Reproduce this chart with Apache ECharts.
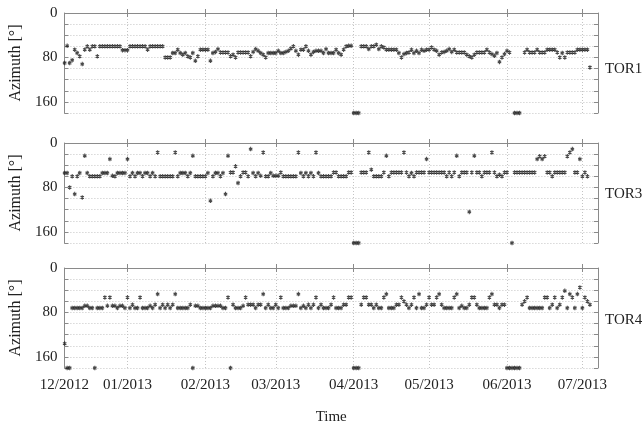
<!DOCTYPE html>
<html>
<head>
<meta charset="utf-8">
<style>
  html, body { margin: 0; padding: 0; background: #fff; }
  #chart { width: 644px; height: 426px; }
</style>
<script src="https://cdn.jsdelivr.net/npm/echarts@6/dist/echarts.min.js"></script>
</head>
<body>
<div id="chart"></div>
<script>
// Daily azimuth estimates (degrees), one value per day starting 7 Dec 2012.
// null = no estimate that day; 180 = flagged/out-of-range day.
const firstDay = '2012-12-07';
const stations = ['TOR1', 'TOR3', 'TOR4'];

const tor1 = [
  90,59,90,85,66,72,78,92,66,60,66,60,60,78,
  60,60,60,60,60,60,60,60,60,
  67,67,67,
  60,60,60,60,60,60,60,
  66,
  60,60,60,60,60,60,
  80,80,80,
  72,72,66,72,75,72,78,80,72,86,78,
  66,66,66,66,
  86,72,70,65,
  71,71,71,71,
  78,75,80,71,
  71,71,71,71,
  78,70,65,68,72,75,80,
  72,72,72,72,
  68,72,72,70,68,64,60,68,75,66,66,60,68,75,70,
  68,68,68,
  72,65,
  72,72,72,
  66,72,75,66,60,59,59,
  180,180,180,
  60,60,60,
  65,60,60,57,65,60,62,
  66,66,66,66,66,
  72,80,74,72,71,66,72,68,72,66,68,66,66,62,66,68,75,71,70,68,65,70,66,
  71,71,71,71,
  75,78,80,75,
  71,71,71,71,
  66,71,74,77,72,88,80,74,68,71,
  null,
  180,180,180,
  null,
  71,66,
  71,71,71,
  66,
  71,71,71,
  66,66,66,66,
  71,80,72,80,71,
  71,71,71,
  66,66,66,66,66,
  98
];

const tor3 = [
  54,54,80,60,92,60,54,98,23,54,
  60,60,60,60,60,
  54,54,54,
  29,59,60,
  54,54,54,54,
  29,60,54,60,54,54,60,54,54,60,54,60,
  17,
  60,60,60,60,60,60,
  17,60,
  54,54,54,
  60,54,23,
  60,60,60,60,60,
  54,104,60,
  54,54,60,54,
  92,23,53,53,42,72,60,53,53,60,11,
  54,60,54,59,17,60,60,54,
  59,59,59,
  53,
  60,60,60,60,60,60,
  17,54,60,54,60,54,60,17,54,
  60,60,60,60,60,
  53,53,
  60,60,60,60,
  53,53,
  180,180,180,
  53,53,53,
  17,48,
  60,60,60,60,
  53,23,60,
  53,53,53,53,53,
  17,53,60,54,60,
  53,53,53,53,
  29,53,
  53,53,53,53,53,53,
  60,53,60,53,23,60,
  53,53,53,
  124,53,23,
  53,53,
  60,
  53,53,53,
  17,53,60,57,60,
  53,53,
  null,
  180,
  53,53,53,53,53,53,53,53,53,
  29,24,29,24,
  53,53,
  60,
  53,53,53,53,53,
  24,17,11,
  53,53,
  29,60,53,60,
  null
];

const tor4 = [
  136,180,180,
  72,72,72,72,72,
  68,68,
  72,72,
  180,
  72,72,72,
  53,68,53,68,68,72,68,68,72,53,72,66,
  72,72,
  53,
  72,72,72,
  68,72,66,47,72,66,72,66,72,66,47,
  72,72,72,72,72,
  66,180,
  68,68,
  72,72,72,72,72,
  68,68,68,68,72,
  72,53,180,66,
  72,72,72,
  68,53,66,66,66,
  72,66,66,47,72,66,72,72,66,72,53,
  72,72,72,
  68,68,68,
  47,72,68,72,66,72,66,53,72,66,
  72,72,72,
  66,53,
  72,72,72,
  66,66,
  53,53,
  180,180,180,
  66,53,53,66,66,72,66,72,72,53,47,
  72,72,72,
  66,66,53,60,66,72,66,53,72,47,72,72,66,53,66,66,53,47,66,
  72,72,72,72,
  53,47,72,68,72,72,66,53,53,66,
  72,72,72,72,
  53,47,66,66,72,66,66,
  180,180,180,180,180,180,
  66,60,53,
  72,72,72,72,72,72,
  53,53,72,66,53,72,66,53,41,72,47,53,72,47,35,72,53,60,66
];

const monthTicks = ['2013-01-01','2013-02-01','2013-03-01','2013-04-01','2013-05-01','2013-06-01','2013-07-01'];
const yTickLabels = [0, 80, 160];

const DAY = 86400000;
const t0 = Date.parse(firstDay + 'T00:00:00Z');
const axisMin = t0 - 0.1 * DAY;
const axisMax = Date.parse('2013-07-07T05:00:00Z');
const tickTimes = monthTicks.map(s => Date.parse(s + 'T00:00:00Z'));
const labelTimes = [axisMin].concat(tickTimes);

function toPoints(arr) {
  const out = [];
  arr.forEach((v, i) => { if (v !== null) out.push([t0 + i * DAY, v]); });
  return out;
}

function monthLabel(v) {
  const d = new Date(v + 0.2 * DAY);
  const m = d.getUTCMonth() + 1;
  return (m < 10 ? '0' + m : '' + m) + '/' + d.getUTCFullYear();
}

const FONT = '"Liberation Serif", "Times New Roman", serif';
const AXIS_COLOR = '#8a8a8a';
const GRID_COLOR = '#c4c4c4';
const TEXT_COLOR = '#222';
// small six-armed asterisk marker
const ASTERISK = 'path://M0,-3L0,3M-2.6,-1.5L2.6,1.5M-2.6,1.5L2.6,-1.5';

const grids = [
  { left: 59, top: 13, width: 539, height: 100 },
  { left: 59, top: 143, width: 539, height: 100 },
  { left: 59, top: 268, width: 539, height: 100 }
];

const xAxes = [];
const yAxes = [];
const series = [];

grids.forEach((g, i) => {
  const isLast = i === grids.length - 1;
  // bottom date axis (values are UTC milliseconds)
  xAxes.push({
    type: 'value', gridIndex: i, min: axisMin, max: axisMax, position: 'bottom',
    axisLine: { show: true, lineStyle: { color: AXIS_COLOR, width: 1 } },
    axisTick: { show: true, inside: true, length: 4, customValues: tickTimes, lineStyle: { color: AXIS_COLOR } },
    axisLabel: {
      show: isLast, customValues: labelTimes, margin: 10, showMinLabel: true, showMaxLabel: true,
      fontFamily: FONT, fontSize: 15, color: TEXT_COLOR,
      formatter: monthLabel
    },
    splitLine: { show: true, lineStyle: { color: GRID_COLOR, type: [1, 2], width: 1 } },
    name: isLast ? 'Time' : '', nameLocation: 'middle', nameGap: 42,
    nameTextStyle: { fontFamily: FONT, fontSize: 15, color: TEXT_COLOR }
  });
  // top frame axis
  xAxes.push({
    type: 'value', gridIndex: i, min: axisMin, max: axisMax, position: 'top',
    axisLine: { show: true, lineStyle: { color: AXIS_COLOR, width: 1 } },
    axisTick: { show: true, inside: true, length: 4, customValues: tickTimes, lineStyle: { color: AXIS_COLOR } },
    axisLabel: { show: false },
    splitLine: { show: false }
  });
  // left azimuth axis
  yAxes.push({
    type: 'value', gridIndex: i, inverse: true, min: 0, max: 180, interval: 20,
    axisLine: { show: true, lineStyle: { color: AXIS_COLOR, width: 1 } },
    axisTick: { show: true, inside: true, length: 4, lineStyle: { color: AXIS_COLOR } },
    axisLabel: {
      margin: 7, fontFamily: FONT, fontSize: 15, color: TEXT_COLOR,
      formatter: v => (yTickLabels.indexOf(v) >= 0 ? String(v) : '')
    },
    splitLine: { show: true, lineStyle: { color: GRID_COLOR, type: [1, 2], width: 1 } },
    name: 'Azimuth [°]', nameLocation: 'middle', nameRotate: 90, nameGap: 36,
    nameTextStyle: { fontFamily: FONT, fontSize: 16, color: TEXT_COLOR }
  });
  // right frame axis
  yAxes.push({
    type: 'value', gridIndex: i, inverse: true, min: 0, max: 180, interval: 20, position: 'right',
    axisLine: { show: true, lineStyle: { color: AXIS_COLOR, width: 1 } },
    axisTick: { show: true, inside: true, length: 4, lineStyle: { color: AXIS_COLOR } },
    axisLabel: { show: false },
    splitLine: { show: false }
  });
});

[tor1, tor3, tor4].forEach((arr, i) => {
  series.push({
    name: stations[i], type: 'scatter', xAxisIndex: i * 2, yAxisIndex: i * 2,
    data: toPoints(arr), symbol: ASTERISK, symbolSize: [4, 4.5], symbolKeepAspect: true,
    itemStyle: { color: '#1c1c1c', borderColor: '#1c1c1c', borderWidth: 1.1 },
    silent: true, animation: false
  });
});

const graphic = stations.map((s, i) => ({
  type: 'text', left: 605, top: [62, 187, 313][i],
  style: { text: s, fontFamily: FONT, fontSize: 15, fill: TEXT_COLOR }
}));

const chart = echarts.init(document.getElementById('chart'), null, { renderer: 'canvas' });
chart.setOption({
  animation: false,
  backgroundColor: '#fff',
  grid: grids,
  xAxis: xAxes,
  yAxis: yAxes,
  series: series,
  graphic: graphic
});
</script>
</body>
</html>
